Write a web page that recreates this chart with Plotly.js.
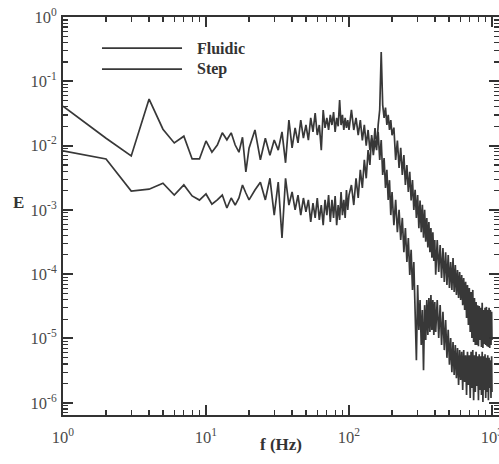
<!DOCTYPE html>
<html><head><meta charset="utf-8">
<script src="https://cdn.plot.ly/plotly-3.0.1.min.js"></script>
<style>html,body{margin:0;padding:0;background:#fff}#chart{width:499px;height:464px}</style>
</head><body><div id="chart"></div>
<script>
// Frequency samples (Hz)
const freqHz = [1,2,3,4,5,6,7,8,9,10,11,12,13,14,15,16,17,18,19,20,
22,24,26,28,30,32,34,36,38,40,42,44,46,48,50,52,54,56,58,60,62,64,66,68,70,72,74,76,78,80,82,84,86,88,90,92,94,96,98,100,
104,108,112,116,120,124,128,132,136,140,144,148,152,156,160,164,168,172,176,180,184,188,192,196,200,
206,212,218,224,230,236,242,248,254,260,266,272,278,284,290,296,302,308,314,320,326,332,338,344,350,356,362,368,374,380,386,392,398,404,
414,424,434,444,454,464,474,484,494,504,514,524,534,544,554,564,574,584,594,604,614,624,634,644,654,664,674,684,694,704,
714,724,734,744,754,764,774,784,794,804,814,824,834,844,854,864,874,884,894,904,914,924,934,944,954,964,974,984,994,1000];

// Energy, "Fluidic" series
const fluidicE = [4.1e-2,1.3e-2,6.9e-3,5.3e-2,1.8e-2,1.1e-2,1.4e-2,6.2e-3,6.2e-3,1.18e-2,7.9e-3,1.02e-2,1.58e-2,1.23e-2,1.58e-2,1.02e-2,7.9e-3,1.35e-2,3.9e-3,9.1e-3,
1.75e-2,6.0e-3,1.3e-2,7.1e-3,1.22e-2,8.5e-3,1.63e-2,5.4e-3,2.5e-2,9.2e-3,1.88e-2,1.1e-2,2.5e-2,1.31e-2,2.09e-2,1.22e-2,2.69e-2,1.63e-2,3.2e-2,1.46e-2,
2.09e-2,8.5e-3,3.58e-2,1.88e-2,2.69e-2,1.75e-2,3.0e-2,2.09e-2,3.33e-2,1.63e-2,2.69e-2,2.0e-2,5.1e-2,2.09e-2,3.0e-2,1.75e-2,2.69e-2,1.88e-2,2.5e-2,1.75e-2,
3.6e-2,1.75e-2,2.7e-2,1.45e-2,2.5e-2,1.2e-2,2.1e-2,1.0e-2,1.75e-2,8.5e-3,1.3e-2,7.1e-3,1.2e-2,8.5e-3,2.1e-2,3.6e-2,0.285,4.3e-2,2.7e-2,3.9e-2,2.1e-2,3.0e-2,1.75e-2,2.5e-2,1.45e-2,
1.9e-2,6.0e-3,1.2e-2,4.5e-3,9.2e-3,3.5e-3,7.1e-3,2.45e-3,5.0e-3,1.9e-3,3.9e-3,1.4e-3,2.9e-3,1.0e-3,2.05e-3,7.5e-4,1.7e-3,5.2e-4,1.4e-3,4.5e-4,1.2e-3,3.7e-4,1.0e-3,3.2e-4,7.5e-4,2.6e-4,6.5e-4,2.2e-4,5.2e-4,1.8e-4,4.5e-4,1.6e-4,3.4e-4,9.8e-5,
3.4e-4,1.08e-4,2.85e-4,8.7e-5,2.55e-4,7.6e-5,2.2e-4,6.8e-5,1.99e-4,6.1e-5,1.55e-4,5.7e-5,1.79e-4,5.3e-5,1.39e-4,4.75e-5,1.16e-4,4.27e-5,1.08e-4,3.97e-5,
9.7e-5,3.3e-5,8.7e-5,2.77e-5,7.6e-5,2.08e-5,6.8e-5,1.62e-5,6.1e-5,1.26e-5,5.3e-5,1.02e-5,5.7e-5,8.8e-6,4.27e-5,7.9e-6,
3.7e-5,7.9e-6,3.3e-5,7.6e-6,3.2e-5,9.5e-6,3.0e-5,7.4e-6,3.6e-5,7.1e-6,2.77e-5,8.2e-6,3.0e-5,7.9e-6,3.1e-5,7.6e-6,2.77e-5,7.4e-6,3.0e-5,7.1e-6,2.77e-5,7.9e-6,2.6e-5,9.5e-6];

// Energy, "Step" series
const stepE = [8.3e-3,6.2e-3,1.96e-3,2.1e-3,2.6e-3,1.7e-3,2.45e-3,1.65e-3,1.42e-3,1.77e-3,1.23e-3,1.43e-3,1.7e-3,1.07e-3,1.53e-3,1.19e-3,1.53e-3,2.44e-3,1.83e-3,1.43e-3,
2.04e-3,2.7e-3,1.43e-3,3.1e-3,8.3e-4,2.7e-3,3.66e-4,3.1e-3,1.19e-3,1.9e-3,1.0e-3,1.7e-3,8.3e-4,1.53e-3,9.3e-4,1.43e-3,6.5e-4,1.28e-3,7.5e-4,1.53e-3,
7.0e-4,1.19e-3,5.8e-4,1.43e-3,8.3e-4,1.7e-3,6.5e-4,1.43e-3,7.5e-4,1.64e-3,5.8e-4,1.19e-3,7.0e-4,1.9e-3,8.3e-4,1.43e-3,7.5e-4,2.04e-3,1.0e-3,1.7e-3,
2.44e-3,1.19e-3,3.1e-3,1.53e-3,4.2e-3,2.2e-3,6.0e-3,3.1e-3,8.5e-3,5.0e-3,1.46e-2,8.5e-3,1.88e-2,1.02e-2,1.63e-2,6.0e-3,1.22e-2,3.5e-3,6.4e-3,2.2e-3,4.2e-3,1.43e-3,2.9e-3,8.3e-4,1.9e-3,
5.8e-4,1.43e-3,4.5e-4,1.0e-3,3.4e-4,7.5e-4,2.2e-4,5.2e-4,1.55e-4,3.66e-4,9.7e-5,2.4e-4,5.7e-5,1.55e-4,3.3e-5,4.6e-6,6.8e-5,1.36e-5,3.97e-5,7.9e-6,2.77e-5,3.2e-6,3.3e-5,9.5e-6,3.97e-5,1.13e-5,4.27e-5,1.26e-5,4.75e-5,1.36e-5,3.97e-5,1.13e-5,3.7e-5,1.26e-5,
3.97e-5,1.02e-5,3.3e-5,7.9e-6,2.6e-5,6.6e-6,1.94e-5,5.0e-6,1.36e-5,3.9e-6,1.02e-5,3.0e-6,8.8e-6,2.7e-6,7.9e-6,2.4e-6,7.1e-6,1.9e-6,6.6e-6,2.26e-6,
6.2e-6,1.58e-6,6.6e-6,2.1e-6,5.5e-6,1.32e-6,6.2e-6,1.9e-6,5.5e-6,1.19e-6,6.2e-6,1.7e-6,6.6e-6,1.1e-6,5.5e-6,1.47e-6,6.2e-6,1.82e-6,5.3e-6,1.1e-6,
5.7e-6,1.58e-6,5.3e-6,1.32e-6,6.2e-6,1.03e-6,5.3e-6,1.58e-6,5.7e-6,1.19e-6,5.0e-6,1.47e-6,5.5e-6,1.1e-6,5.0e-6,1.7e-6,4.6e-6,1.19e-6,5.3e-6,1.47e-6];

const seriesNames = ['Fluidic', 'Step'];
const xTickVals = [1, 10, 100, 1000];
const xTickText = ['10<sup>0</sup>', '10<sup>1</sup>', '10<sup>2</sup>', '10<sup>3</sup>'];
const yTickVals = [1e-6, 1e-5, 1e-4, 1e-3, 1e-2, 1e-1, 1];
const yTickText = ['10<sup>-6</sup>', '10<sup>-5</sup>', '10<sup>-4</sup>', '10<sup>-3</sup>', '10<sup>-2</sup>', '10<sup>-1</sup>', '10<sup>0</sup>'];

const ink = '#333333';
const lineInk = '#383838';
const serif = 'Liberation Serif, Times New Roman, serif';

const traces = [
  {x: freqHz, y: fluidicE, name: seriesNames[0], type: 'scatter', mode: 'lines', line: {color: lineInk, width: 1.7}, showlegend: false},
  {x: freqHz, y: stepE, name: seriesNames[1], type: 'scatter', mode: 'lines', line: {color: lineInk, width: 1.7}, showlegend: false}
];

function axisBase() {
  return {
    type: 'log', showgrid: false, zeroline: false, automargin: false,
    showline: true, linecolor: ink, linewidth: 2, mirror: 'allticks',
    ticks: 'inside', ticklen: 10, tickwidth: 2, tickcolor: ink,
    tickmode: 'array', ticklabeloverflow: 'allow',
    tickfont: {family: serif, size: 16.5, color: '#4a4a4a'},
    minor: {ticks: 'inside', ticklen: 5, tickwidth: 1.2, tickcolor: ink, dtick: 'D1', showgrid: false}
  };
}

const xaxis = Object.assign(axisBase(), {
  range: [0, 3.049], tickvals: xTickVals, ticktext: xTickText, ticklabelstandoff: 6
});
const yaxis = Object.assign(axisBase(), {
  range: [-6.19, 0], tickvals: yTickVals, ticktext: yTickText, ticklabelstandoff: 1
});

const layout = {
  width: 499, height: 464,
  margin: {l: 63, r: 0, t: 17, b: 49},
  paper_bgcolor: '#fff', plot_bgcolor: '#fff',
  xaxis: xaxis, yaxis: yaxis,
  showlegend: false,
  shapes: [
    {type: 'line', xref: 'paper', yref: 'paper', x0: 0.0894, x1: 0.273, y0: 0.922, y1: 0.922, line: {color: lineInk, width: 1.8}},
    {type: 'line', xref: 'paper', yref: 'paper', x0: 0.0894, x1: 0.273, y0: 0.869, y1: 0.869, line: {color: lineInk, width: 1.8}}
  ],
  annotations: [
    {xref: 'paper', yref: 'paper', x: 0.303, y: 0.922, xanchor: 'left', yanchor: 'middle', showarrow: false,
     text: '<b>' + seriesNames[0] + '</b>', font: {family: serif, size: 16, color: '#333'}},
    {xref: 'paper', yref: 'paper', x: 0.303, y: 0.869, xanchor: 'left', yanchor: 'middle', showarrow: false,
     text: '<b>' + seriesNames[1] + '</b>', font: {family: serif, size: 16, color: '#333'}},
    {xref: 'paper', yref: 'paper', x: -0.103, y: 0.535, xanchor: 'center', yanchor: 'middle', showarrow: false,
     text: '<b>E</b>', font: {family: serif, size: 17, color: '#333'}},
    {xref: 'paper', yref: 'paper', x: 0.5, y: -0.075, xanchor: 'center', yanchor: 'middle', showarrow: false,
     text: '<b>f (Hz)</b>', font: {family: serif, size: 17, color: '#333'}}
  ]
};

Plotly.newPlot('chart', traces, layout, {staticPlot: true, displayModeBar: false});
</script>
</body></html>
